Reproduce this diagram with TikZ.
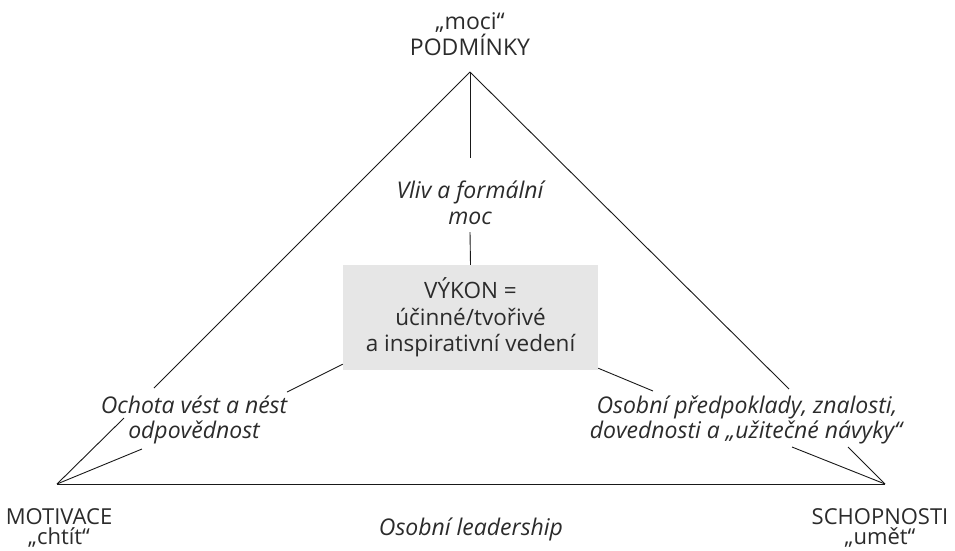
\documentclass[tikz,border=0pt]{standalone}
\usepackage{fontspec}
\setmainfont{Open Sans}
\definecolor{txt}{HTML}{2B2B2B}
\definecolor{boxfill}{HTML}{E6E6E6}
\begin{document}
\begin{tikzpicture}[x=1pt,y=-1pt,
  ln/.style={draw=black!90, line width=0.9pt},
  lab/.style={text=txt, font=\fontsize{23}{27}\selectfont, inner sep=0pt, align=center},
  blab/.style={lab, font=\fontsize{22}{26}\selectfont},
  ilab/.style={lab, font=\fontsize{23}{27}\selectfont\itshape},
  vbox/.style={fill=boxfill, draw=none, minimum width=255pt, minimum height=105pt, inner sep=0pt, text=txt, align=center, font=\fontsize{22.5}{26.5}\selectfont}]
\useasboundingbox (0,0) rectangle (955,550);
% vertices
\coordinate (A) at (470,72);
\coordinate (L) at (57,484);
\coordinate (R) at (885,484);
% break points
\coordinate (la1) at (154,388);
\coordinate (la2) at (124,418);
\coordinate (ra1) at (789,389);
\coordinate (ra2) at (848,447);
\coordinate (vt1) at (470,158);
\coordinate (vt2) at (470,232);
\coordinate (lc1) at (287,392);
\coordinate (lc2) at (142,449);
\coordinate (rc1) at (653,391);
\coordinate (rc2) at (792,447);
% labels
\node[lab, anchor=base] (moci) at (470,29) {„moci“};
\node[lab, anchor=base] (podm) at (470,55) {PODMÍNKY};
\node[ilab, anchor=base] (vliv1) at (470,198) {Vliv a formální};
\node[ilab, anchor=base] (vliv2) at (470,224) {moc};
\node[vbox] (box) at (470.5,317.5) {VÝKON =\\účinné/tvořivé\\a inspirativní vedení};
\node[ilab, anchor=base] (och1) at (194,413) {Ochota vést a nést};
\node[ilab, anchor=base] (och2) at (194,438) {odpovědnost};
\node[ilab, anchor=base] (oso1) at (747,413) {Osobní předpoklady, znalosti,};
\node[ilab, anchor=base] (oso2) at (746,438) {dovednosti a „užitečné návyky“};
\node[blab, anchor=base] (mot) at (59,524) {MOTIVACE};
\node[blab, anchor=base] (cht) at (59,544) {„chtít“};
\node[blab, anchor=base] (sch) at (880,524) {SCHOPNOSTI};
\node[blab, anchor=base] (ume) at (880,544) {„umět“};
\node[ilab, anchor=base] (lead) at (471,535) {Osobní leadership};
% lines
\draw[ln] (A) -- (la1);
\draw[ln] (la2) -- (L);
\draw[ln] (A) -- (ra1);
\draw[ln] (ra2) -- (R);
\draw[ln] (L) -- (R);
\draw[ln] (A) -- (vt1);
\draw[ln] (vt2) -- (box.north);
\draw[ln] ([yshift=6pt]box.south west) -- (lc1);
\draw[ln] (lc2) -- (L);
\draw[ln] ([yshift=2pt]box.south east) -- (rc1);
\draw[ln] (rc2) -- (R);
\end{tikzpicture}
\end{document}
